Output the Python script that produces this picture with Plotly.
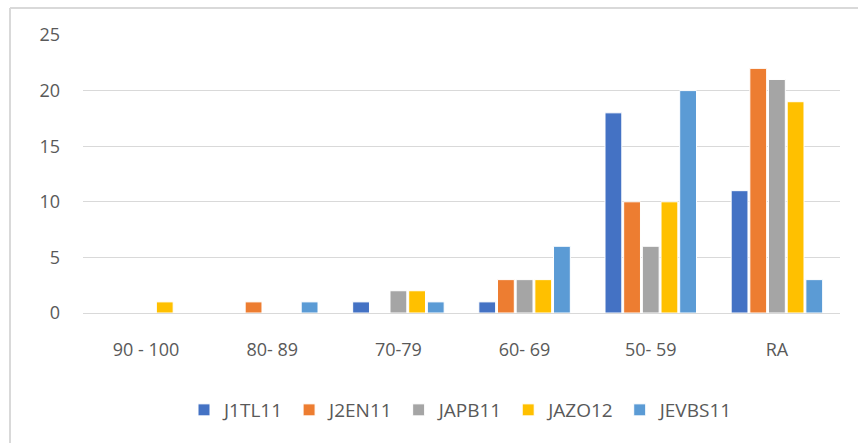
import plotly.graph_objects as go

# Score bands and counts per course
categories = ["90 - 100", "80- 89", "70-79", "60- 69", "50- 59", "RA"]
series_names = ["J1TL11", "J2EN11", "JAPB11", "JAZO12", "JEVBS11"]
j1tl11 = [0, 0, 1, 1, 18, 11]
j2en11 = [0, 1, 0, 3, 10, 22]
japb11 = [0, 0, 2, 3, 6, 21]
jazo12 = [1, 0, 2, 3, 10, 19]
jevbs11 = [0, 1, 1, 6, 20, 3]
y_ticks = [0, 5, 10, 15, 20, 25]

colors = ["#4472C4", "#ED7D31", "#A5A5A5", "#FFC000", "#5B9BD5"]
values = [j1tl11, j2en11, japb11, jazo12, jevbs11]

W, H = 858, 443
L, R, T, B = 83, 18, 35, 130
pw, ph = W - L - R, H - T - B

fig = go.Figure()
for name, vals, col in zip(series_names, values, colors):
    fig.add_trace(go.Bar(
        x=categories, y=vals, name=name,
        marker=dict(color=col, line=dict(color="white", width=1)),
    ))

def px_x(v):
    return (v - L) / pw

def px_y(v):
    return (H - B - v) / ph

# chart-area frame (left and top edges)
fig.add_shape(type="line", xref="paper", yref="paper",
              x0=px_x(10), y0=px_y(443), x1=px_x(10), y1=px_y(8),
              line=dict(color="#D9D9D9", width=2))
fig.add_shape(type="line", xref="paper", yref="paper",
              x0=px_x(10), y0=px_y(8), x1=px_x(860), y1=px_y(8),
              line=dict(color="#D9D9D9", width=2))

font = dict(family="Open Sans, Liberation Sans, sans-serif", color="#595959", size=18)

fig.update_layout(
    width=W, height=H,
    margin=dict(l=L, r=R, t=T, b=B),
    paper_bgcolor="white", plot_bgcolor="white",
    barmode="group", bargap=0.26, bargroupgap=0.1,
    font=font,
    showlegend=True,
    legend=dict(orientation="h", x=0.5, xanchor="center", y=px_y(410), yanchor="middle",
                font=dict(size=19, color="#595959"), itemwidth=30, tracegroupgap=0),
    xaxis=dict(showgrid=False, showline=False, ticks="", ticklabelstandoff=24,
               tickfont=dict(size=18, color="#595959")),
    yaxis=dict(range=[0, 25], tickvals=y_ticks, showgrid=True, gridcolor="#D9D9D9",
               gridwidth=1, zeroline=True, zerolinecolor="#D9D9D9", zerolinewidth=1,
               showline=False, ticks="", ticklabelstandoff=22,
               tickfont=dict(size=18, color="#595959")),
)

fig.write_html("out.html")
